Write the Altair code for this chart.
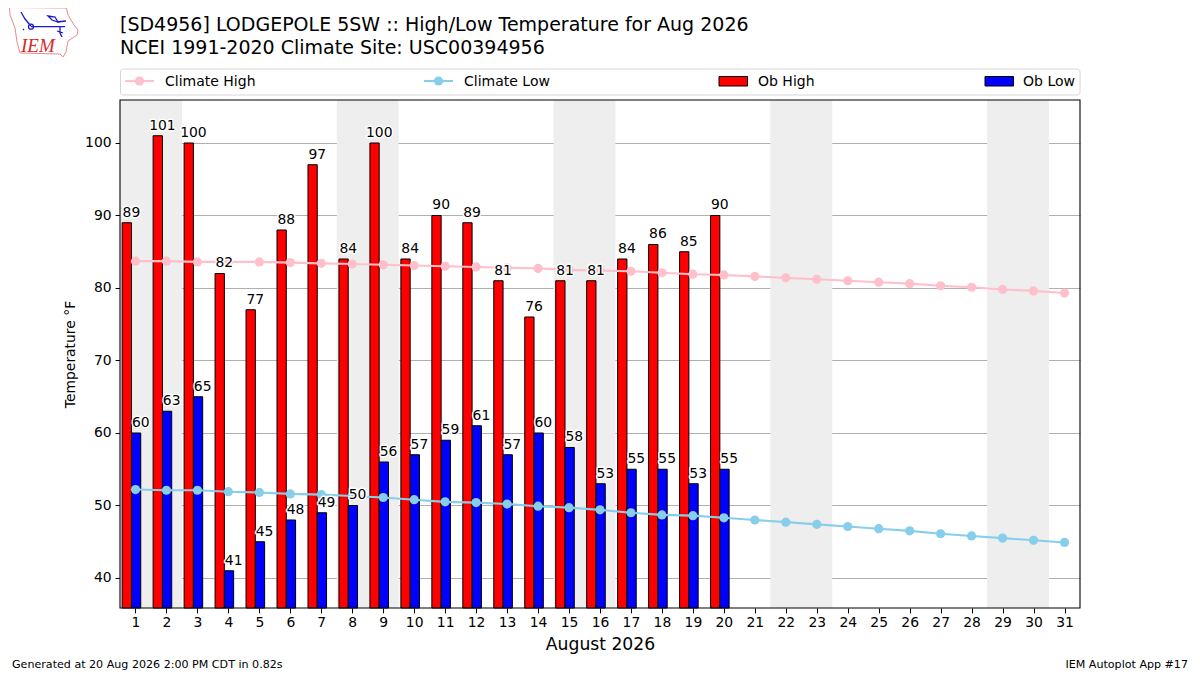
import altair as alt
import pandas as pd

days = list(range(1, 32))
ob_days = list(range(1, 21))
ob_high = [89, 101, 100, 82, 77, 88, 97, 84, 100, 84, 90, 89, 81, 76, 81, 81, 84, 86, 85, 90]
ob_low = [60, 63, 65, 41, 45, 48, 49, 50, 56, 57, 59, 61, 57, 60, 58, 53, 55, 55, 53, 55]
clim_high = [83.7, 83.7, 83.6, 83.6, 83.6, 83.5, 83.4, 83.3, 83.2, 83.1, 83.0, 82.9, 82.8, 82.7, 82.5, 82.4,
             82.3, 82.1, 81.9, 81.8, 81.6, 81.4, 81.2, 81.0, 80.8, 80.6, 80.3, 80.1, 79.8, 79.6, 79.3]
clim_low = [52.2, 52.1, 52.1, 51.9, 51.8, 51.6, 51.5, 51.3, 51.1, 50.8, 50.5, 50.4, 50.2, 49.9, 49.7, 49.4,
            49.0, 48.7, 48.6, 48.3, 48.0, 47.7, 47.4, 47.1, 46.8, 46.5, 46.1, 45.8, 45.5, 45.2, 44.9]
weekend_start = [0.5, 7.5, 14.5, 21.5, 28.5]
weekend_end = [2.5, 9.5, 16.5, 23.5, 30.5]

FONT = "DejaVu Sans"
xs = alt.Scale(domain=[0.5, 31.5], nice=False, zero=False)
ys = alt.Scale(domain=[35.86, 105.93], nice=False, zero=False)
x_axis = alt.Axis(values=days, format="d", grid=False, labelFontSize=13.9, titleFontSize=17.2,
                  labelColor="black", titleColor="black", tickColor="black", domain=False, tickSize=4.9,
                  labelPadding=3, titlePadding=6, titleFontWeight="normal", labelFont=FONT, titleFont=FONT,
                  labelFlush=False, labelOverlap=False)
y_axis = alt.Axis(values=[40, 50, 60, 70, 80, 90, 100], grid=True, gridColor="#b0b0b0", gridWidth=1,
                  labelFontSize=13.9, titleFontSize=13.9, labelColor="black", titleColor="black",
                  tickColor="black", domain=False, tickSize=4.9, labelPadding=4, titlePadding=7,
                  titleFontWeight="normal", labelFont=FONT, titleFont=FONT)

bars = pd.DataFrame({"day": ob_days, "high": ob_high, "low": ob_low})
bars["h0"] = bars.day - 0.43
bars["h1"] = bars.day - 0.13
bars["l1"] = bars.day + 0.17
bars["base"] = 35.86
clim = pd.DataFrame({"day": days, "chigh": clim_high, "clow": clim_low})
spans = pd.DataFrame({"s": weekend_start, "e": weekend_end})

X = lambda f: alt.X(f"{f}:Q", scale=xs, title="August 2026", axis=x_axis)
Y = lambda f: alt.Y(f"{f}:Q", scale=ys, title="Temperature °F", axis=y_axis)

span_layer = alt.Chart(spans).mark_rect(color="#eeeeee").encode(x=X("s"), x2="e:Q")
grid_layer = alt.Chart(clim).mark_point(opacity=0).encode(x=X("day"), y=Y("chigh"))
high_bars = alt.Chart(bars).mark_rect(color="red", stroke="black", strokeWidth=1).encode(
    x=X("h0"), x2="h1:Q", y=Y("high"), y2="base:Q")
low_bars = alt.Chart(bars).mark_rect(color="blue", stroke="black", strokeWidth=1).encode(
    x=X("h1"), x2="l1:Q", y=Y("low"), y2="base:Q")


def series(field, colour):
    line = alt.Chart(clim).mark_line(color=colour, strokeWidth=2.1).encode(x=X("day"), y=Y(field))
    pts = alt.Chart(clim).mark_point(color=colour, filled=True, size=85, opacity=1).encode(x=X("day"), y=Y(field))
    return line + pts


def labels(xf, field):
    halo = alt.Chart(bars).mark_text(font=FONT, fontSize=13.9, dy=-6, baseline="alphabetic", stroke="white",
                                     strokeWidth=3, strokeJoin="round", fill="white").encode(
        x=X(xf), y=Y(field), text=f"{field}:Q")
    txt = alt.Chart(bars).mark_text(font=FONT, fontSize=13.9, dy=-6, baseline="alphabetic", color="black").encode(
        x=X(xf), y=Y(field), text=f"{field}:Q")
    return halo + txt


def note(t, x, y, size=14, align="left", colour="black", font=FONT, style="normal"):
    return alt.Chart(pd.DataFrame({"t": [t]})).mark_text(
        font=font, fontSize=size, align=align, baseline="middle", color=colour, fontStyle=style
    ).encode(x=alt.value(x), y=alt.value(y), text="t:N")


def one():
    return pd.DataFrame({"a": [0]})


frame = alt.Chart(one()).mark_rect(fillOpacity=0, stroke="black", strokeWidth=1.1).encode(
    x=alt.value(0), x2=alt.value(960), y=alt.value(0), y2=alt.value(508))
legend_box = alt.Chart(one()).mark_rect(fill="white", stroke="#d6d6d6", strokeWidth=1, cornerRadius=3).encode(
    x=alt.value(0.5), x2=alt.value(960), y=alt.value(-31), y2=alt.value(-5))


def leg_line(x0, colour):
    r = alt.Chart(one()).mark_rule(color=colour, strokeWidth=2.1).encode(
        x=alt.value(x0), x2=alt.value(x0 + 29), y=alt.value(-19))
    p = alt.Chart(one()).mark_point(color=colour, filled=True, size=85, opacity=1).encode(
        x=alt.value(x0 + 14.5), y=alt.value(-19))
    return r + p


def leg_box(x0, colour):
    return alt.Chart(one()).mark_rect(color=colour, stroke="black", strokeWidth=1).encode(
        x=alt.value(x0), x2=alt.value(x0 + 28.5), y=alt.value(-23.5), y2=alt.value(-14))


IOWA = ("M9.5,7.5 L66.5,8 L68,15 L74,25 L78,30 L77,35 L68,41 L66,52 L63,57 L60,54 L20,53 "
        "L17,42 L15,28 L10,15 Z")
STATION = ("M31,26.7 L65,26.7 M21,12 L25,19 L31,26 M57,22 L66,21 M48,16 L55,17 L58,22 L52,20 Z "
           "M60,27 L60,33 L62,37 M57,31 L63,33 M24,29 L23,30 M28.5,26.7 a2.5,2.5 0 1,0 5,0 a2.5,2.5 0 1,0 -5,0 Z")
logo_o = alt.Chart(one()).mark_point(shape=IOWA, size=4, filled=False, stroke="#e88a8a", strokeWidth=1, opacity=1).encode(
    x=alt.value(-120), y=alt.value(-100))
logo_s = alt.Chart(one()).mark_point(shape=STATION, size=4, filled=False, stroke="#1a1ad0", strokeWidth=1.3, opacity=1).encode(
    x=alt.value(-120), y=alt.value(-100))
logo_t = note("IEM", -99, -54, size=19, colour="#d42a2a", font="Liberation Serif", style="italic")

chart = alt.layer(
    span_layer, grid_layer, high_bars, low_bars,
    series("chigh", "#ffc0cb"), series("clow", "#87ceeb"),
    labels("h1", "high"), labels("l1", "low"),
    frame, legend_box,
    leg_line(5, "#ffc0cb"), note("Climate High", 45, -18.5),
    leg_line(304, "#87ceeb"), note("Climate Low", 344, -18.5),
    leg_box(599, "red"), note("Ob High", 638, -18.5),
    leg_box(865, "blue"), note("Ob Low", 955, -18.5, align="right"),
    note("[SD4956] LODGEPOLE 5SW :: High/Low Temperature for Aug 2026", 0, -75, size=19),
    note("NCEI 1991-2020 Climate Site: USC00394956", 0, -52, size=19),
    note("Generated at 20 Aug 2026 2:00 PM CDT in 0.82s", -108, 565, size=11.1),
    note("IEM Autoplot App #17", 1068, 565, size=11.1, align="right"),
    logo_o, logo_s, logo_t,
).resolve_scale(x="shared", y="shared").properties(
    width=960, height=508,
    autosize=alt.AutoSizeParams(type="none"),
    padding={"left": 112, "top": 92, "right": 112, "bottom": 67},
    background="white",
).configure_view(stroke=None)

chart.save("out.html", embed_options={"renderer": "svg", "actions": False})
